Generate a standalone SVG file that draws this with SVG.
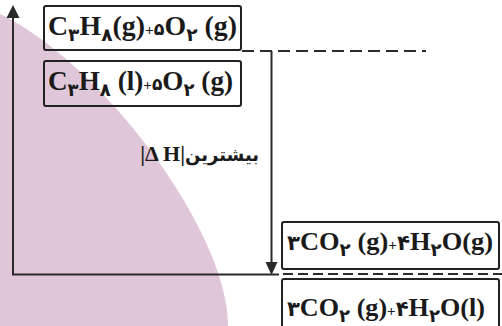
<svg xmlns="http://www.w3.org/2000/svg" width="502" height="326" viewBox="0 0 502 326">
<style>
.ln{stroke:#2a2a2a;stroke-width:2;fill:none}
.dash{stroke:#2a2a2a;stroke-width:2;fill:none;stroke-dasharray:10 5}
.box{stroke:#222;stroke-width:2;fill:none}
.f{font-family:"Liberation Serif","DejaVu Sans",serif;font-weight:bold;fill:#1a1a1a}
.sub{font-size:18px}
.dg{font-size:17px}
.big{font-size:21px}
.pl{font-size:15px}
.p{font-family:"DejaVu Sans","Noto Sans",sans-serif;font-weight:bold;fill:#1a1a1a}
</style>
<rect width="502" height="326" fill="#fff"/>
<path d="M0,14 C100,62 228,230 228,326 L0,326 Z" fill="#e0c6d9"/>
<g id="connectors">
<line class="ln" x1="13" y1="16" x2="13" y2="275"/>
<polygon points="13,5 6.5,18 19.5,18" fill="#2a2a2a"/>
<line class="ln" x1="12" y1="274.5" x2="279" y2="274.5"/>
<line class="dash" x1="283" y1="274" x2="502" y2="274"/>
<line class="dash" x1="242" y1="51" x2="426" y2="51" style="stroke-dasharray:12 6"/>
<line class="ln" x1="271.5" y1="51" x2="271.5" y2="264"/>
<polygon points="271.5,275 265.5,262 277.5,262" fill="#2a2a2a"/>
</g>
<g id="node1">
<rect class="box" x="44" y="6" width="197" height="44" rx="2"/>
<text class="f" x="48" y="35" font-size="27" textLength="189" lengthAdjust="spacingAndGlyphs">C<tspan class="sub" dy="6">۳</tspan><tspan dy="-6">H</tspan><tspan class="sub" dy="6">۸</tspan><tspan dy="-6">(g)</tspan><tspan class="pl">+</tspan><tspan class="dg">۵</tspan>O<tspan class="sub" dy="6">۲</tspan><tspan dy="-6"> (g)</tspan></text>
</g>
<g id="node2">
<rect class="box" x="44" y="61" width="197" height="45" rx="2"/>
<text class="f" x="48" y="90" font-size="27" textLength="185" lengthAdjust="spacingAndGlyphs">C<tspan class="sub" dy="6">۳</tspan><tspan dy="-6">H</tspan><tspan class="sub" dy="6">۸</tspan><tspan dy="-6"> (l)</tspan><tspan class="pl">+</tspan><tspan class="dg">۵</tspan>O<tspan class="sub" dy="6">۲</tspan><tspan dy="-6"> (g)</tspan></text>
</g>
<g id="label">
<text x="259" y="161" direction="rtl" text-anchor="start"><tspan class="p" font-size="18">بیشترین</tspan><tspan class="f" font-size="22">|Δ H|</tspan></text>
</g>
<g id="node3">
<rect class="box" x="282" y="222" width="217" height="47" rx="2"/>
<text class="f" x="287" y="250" font-size="26" textLength="206" lengthAdjust="spacingAndGlyphs"><tspan class="big">۳</tspan>CO<tspan class="sub" dy="6">۲</tspan><tspan dy="-6"> (g)</tspan><tspan class="pl">+</tspan><tspan class="big">۴</tspan>H<tspan class="sub" dy="6">۲</tspan><tspan dy="-6">O(g)</tspan></text>
</g>
<g id="node4">
<rect class="box" x="282" y="279" width="217" height="60" rx="2"/>
<text class="f" x="287" y="316" font-size="26" textLength="198" lengthAdjust="spacingAndGlyphs"><tspan class="big">۳</tspan>CO<tspan class="sub" dy="6">۲</tspan><tspan dy="-6"> (g)</tspan><tspan class="pl">+</tspan><tspan class="big">۴</tspan>H<tspan class="sub" dy="6">۲</tspan><tspan dy="-6">O(l)</tspan></text>
</g>
</svg>
